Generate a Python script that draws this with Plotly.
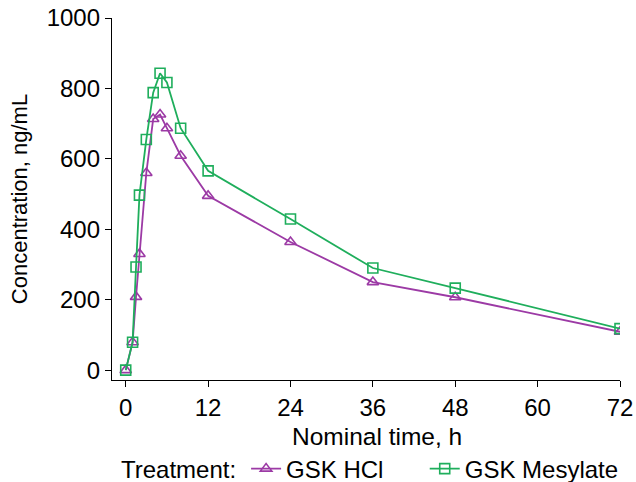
import plotly.graph_objects as go

time_hcl = [0, 1, 1.5, 2, 3, 4, 5, 6, 8, 12, 24, 36, 48, 72]
conc_hcl = [0, 79, 208, 330, 560, 713, 726, 687, 609, 495, 364, 250, 207, 109]

time_mes = [0, 1, 1.5, 2, 3, 4, 5, 6, 8, 12, 24, 36, 48, 72]
conc_mes = [0, 79, 293, 497, 655, 788, 843, 817, 687, 566, 429, 290, 233, 118]

x_ticks = [0, 12, 24, 36, 48, 60, 72]
y_ticks = [0, 200, 400, 600, 800, 1000]

purple = "#9c3aa5"
green = "#1fae5c"
FONT = "Liberation Sans, Arial, sans-serif"

fig = go.Figure()
fig.add_trace(go.Scatter(
    x=time_hcl, y=conc_hcl, name="GSK HCl    \u2009\u2009", mode="lines+markers",
    line=dict(color=purple, width=1.8),
    marker=dict(symbol="triangle-up-open", size=10, color=purple, line=dict(width=1.6)),
))
fig.add_trace(go.Scatter(
    x=time_mes, y=conc_mes, name="GSK Mesylate", mode="lines+markers",
    line=dict(color=green, width=1.8),
    marker=dict(symbol="square-open", size=10, color=green, line=dict(width=1.6)),
))

axis_common = dict(
    showline=True, linecolor="black", linewidth=1.3, mirror=False,
    ticks="outside", ticklen=6, tickwidth=1.3, tickcolor="black",
    showgrid=False, zeroline=False, automargin=False,
    tickfont=dict(family=FONT, size=24, color="black"),
)

fig.update_layout(
    width=636, height=482,
    margin=dict(l=112, r=16, t=18, b=102),
    paper_bgcolor="white", plot_bgcolor="white",
    font=dict(family=FONT, size=24, color="black"),
    xaxis=dict(range=[-2, 72], tickvals=x_ticks, **axis_common),
    yaxis=dict(range=[-28, 1000], tickvals=y_ticks,
               title=dict(text="Concentration, ng/mL", standoff=12,
                          font=dict(size=22)), **axis_common),
    legend=dict(orientation="h", xref="container", x=0.187, xanchor="left",
                yref="container", y=0.027, yanchor="middle",
                title=dict(text="Treatment:\u200a", side="left", font=dict(size=24)),
                font=dict(size=24), tracegroupgap=0, bgcolor="rgba(0,0,0,0)"),
    showlegend=True,
    annotations=[dict(text="Nominal time, h", xref="paper", yref="paper",
                      x=0.522, y=-0.155, xanchor="center", yanchor="middle",
                      showarrow=False, font=dict(family=FONT, size=24.5, color="black"))],
)

fig.write_html("out.html")
